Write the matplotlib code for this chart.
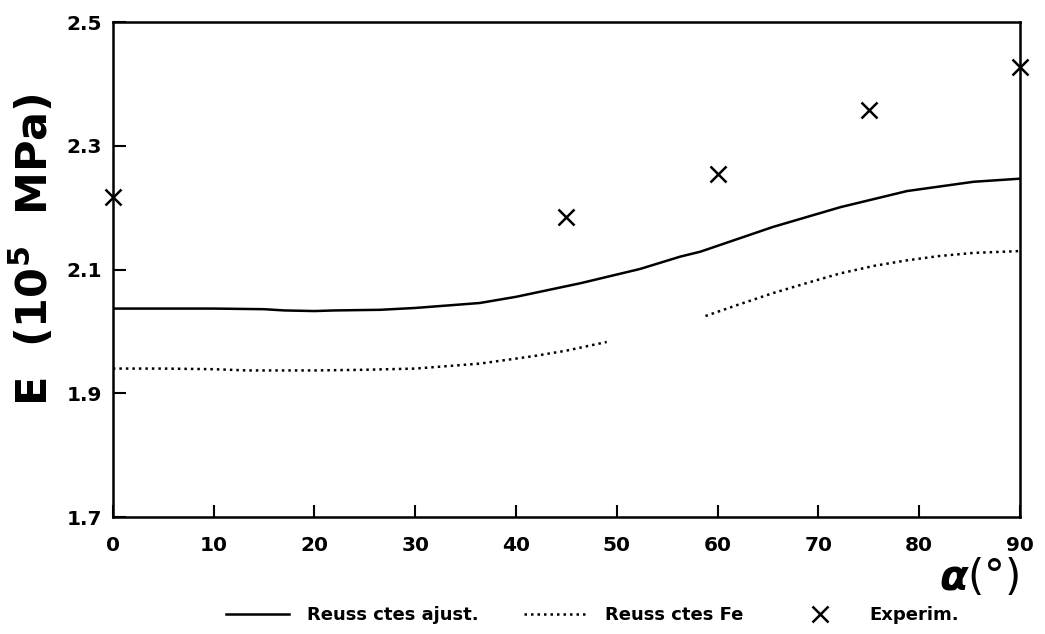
# Module d'Young E en fonction de l'angle alpha - Reuss vs experience

import matplotlib
matplotlib.use('Agg')
import matplotlib.pyplot as plt

plt.rcParams['font.family'] = 'DejaVu Sans'
plt.rcParams['font.weight'] = 'bold'
plt.rcParams['xtick.direction'] = 'in'
plt.rcParams['ytick.direction'] = 'in'

# courbe Reuss, constantes ajustees
alpha_ajust = [0, 5, 10, 15, 17, 20, 22, 26.5, 30, 36.4, 40, 46.4, 52.3, 56.3, 58.3, 65.5, 72.2, 78.8, 85.4, 90]
E_ajust = [2.037, 2.037, 2.037, 2.036, 2.034, 2.033, 2.034, 2.035, 2.038, 2.046, 2.056, 2.078, 2.101, 2.121, 2.129, 2.169, 2.201, 2.227, 2.242, 2.247]

# courbe Reuss, constantes du Fe (deux morceaux)
alpha_fe1 = [0, 5, 10, 13.3, 20, 24.8, 30, 36.4, 41.7, 45, 49]
E_fe1 = [1.940, 1.940, 1.939, 1.937, 1.937, 1.938, 1.940, 1.948, 1.960, 1.969, 1.983]
alpha_fe2 = [58.8, 62, 65.5, 69, 72.2, 75.5, 78.8, 82, 85.4, 90]
E_fe2 = [2.025, 2.043, 2.062, 2.079, 2.094, 2.106, 2.115, 2.122, 2.127, 2.130]

# points experimentaux
alpha_exp = [0, 45, 60, 75, 90]
E_exp = [2.218, 2.185, 2.254, 2.358, 2.428]

fig = plt.figure(figsize=(10.45, 6.34), dpi=100)
ax = fig.add_axes([0.108, 0.1845, 0.868, 0.7805])

ax.plot(alpha_ajust, E_ajust, color='black', linewidth=1.8, label='Reuss ctes ajust.')
ax.plot(alpha_fe1, E_fe1, color='black', linewidth=1.8, linestyle=(0, (1, 1.6)),
        label='Reuss ctes Fe')
ax.plot(alpha_fe2, E_fe2, color='black', linewidth=1.8, linestyle=(0, (1, 1.6)))
ax.plot(alpha_exp, E_exp, linestyle='none', marker='x', color='black', markersize=11,
        markeredgewidth=1.8, clip_on=False, label='Experim.')

ax.set_xlim(0, 90)
ax.set_ylim(1.7, 2.5)
ax.set_xticks(range(0, 91, 10))
ax.set_yticks([1.7, 1.9, 2.1, 2.3, 2.5])
ax.set_yticklabels(['1.7', '1.9', '2.1', '2.3', '2.5'])
ax.tick_params(axis='both', length=9, width=1.5, labelsize=14.5)
ax.tick_params(axis='x', pad=14)
ax.tick_params(axis='y', pad=8)
for s in ax.spines.values():
    s.set_linewidth(1.8)

ax.set_ylabel(r'E  (10$^{\mathbf{5}}$  MPa)', fontsize=31, fontweight='bold')
ax.yaxis.set_label_coords(-0.062, 0.54)

fig.text(0.975, 0.055, r'$\alpha$(°)', fontsize=30, ha='right', va='bottom',
         fontweight='normal')

leg = fig.legend(loc='lower center', bbox_to_anchor=(0.567, -0.01), ncol=3,
                 frameon=False, fontsize=13, handlelength=3.5, columnspacing=2.5,
                 handletextpad=1.0)

plt.savefig('out.png', dpi=100)
